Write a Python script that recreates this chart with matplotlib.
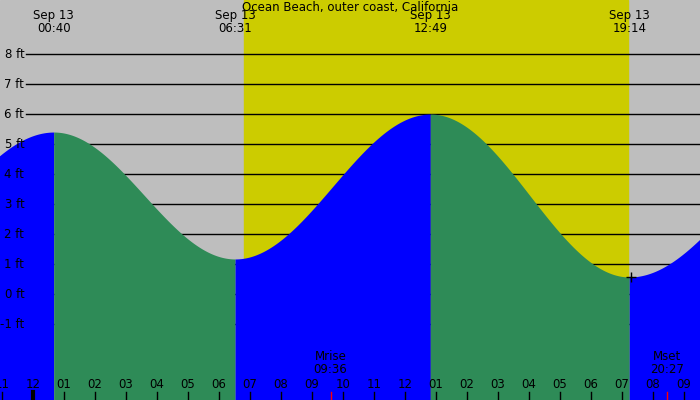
import numpy as np
import matplotlib
matplotlib.use('Agg')
import matplotlib.pyplot as plt

# tide extremes (hours from midnight Sep 13, feet)
ext_hours = [-5.6, 0.667, 6.517, 12.817, 19.233, 25.6]
ext_heights = [1.0, 5.4, 1.17, 6.0, 0.57, 5.0]
ext_labels = ["00:40", "06:31", "12:49", "19:14"]
sun_rise, sun_set = 6.8, 19.2
moon_events = [("Mrise", "09:36", 9.6), ("Mset", "20:27", 20.45)]
ft_levels = list(range(-1, 9))
hour_labels = ["11", "12"] + ["%02d" % h for h in range(1, 13)] + ["%02d" % h for h in range(1, 10)]
hour_pos = list(range(-1, 22))

x0, x1 = -1.065, 21.516
y0, y1 = -3.53, 9.8
fs = 8.5

fig = plt.figure(figsize=(7, 4), dpi=100)
ax = fig.add_axes([0, 0, 1, 1])
ax.set_xlim(x0, x1)
ax.set_ylim(y0, y1)
ax.axis('off')
ax.add_patch(plt.Rectangle((x0, y0), x1 - x0, y1 - y0, color='#bebebe', zorder=0))
ax.axvspan(sun_rise, sun_set, color='#cccc00', zorder=1)

for lv in ft_levels:
    ax.plot([-0.22, x1], [lv, lv], color='black', lw=1, zorder=2)
    ax.text(-0.28, lv, "%d ft" % lv, ha='right', va='center', fontsize=fs, zorder=5)

# cosine curve between extremes
for i in range(len(ext_hours) - 1):
    ta, tb = ext_hours[i], ext_hours[i + 1]
    ha, hb = ext_heights[i], ext_heights[i + 1]
    t = np.linspace(ta, tb, 200)
    h = ha + (hb - ha) * (1 - np.cos(np.pi * (t - ta) / (tb - ta))) / 2
    col = 'blue' if hb > ha else '#2e8b57'
    ax.fill_between(t, y0, h, color=col, lw=0, zorder=3)

for t, lab in zip(ext_hours[1:5], ext_labels):
    ax.text(t, y1 - 0.3, "Sep 13\n" + lab, ha='center', va='top', fontsize=fs, linespacing=1.0, zorder=5)

ax.text((x0 + x1) / 2, y1 - 0.02, "Ocean Beach, outer coast, California", ha='center', va='top', fontsize=fs, zorder=5)

for p, lab in zip(hour_pos, hour_labels):
    ax.plot([p, p], [y0, y0 + 0.25], color='black', lw=1, zorder=5)
    ax.text(p, y0 + 0.3, lab, ha='center', va='bottom', fontsize=fs, zorder=5)
ax.plot([0, 0], [y0, y0 + 0.25], color='black', lw=3, zorder=5)

for name, tm, t in moon_events:
    ax.plot([t, t], [y0, y0 + 0.25], color='red', lw=1, zorder=5)
    ax.text(t, y0 + 0.8, name + "\n" + tm, ha='center', va='bottom', fontsize=fs, linespacing=1.0, zorder=5)

ax.plot(19.3, 0.57, marker='+', color='black', ms=7, zorder=6)

fig.savefig('out.png', dpi=100)
